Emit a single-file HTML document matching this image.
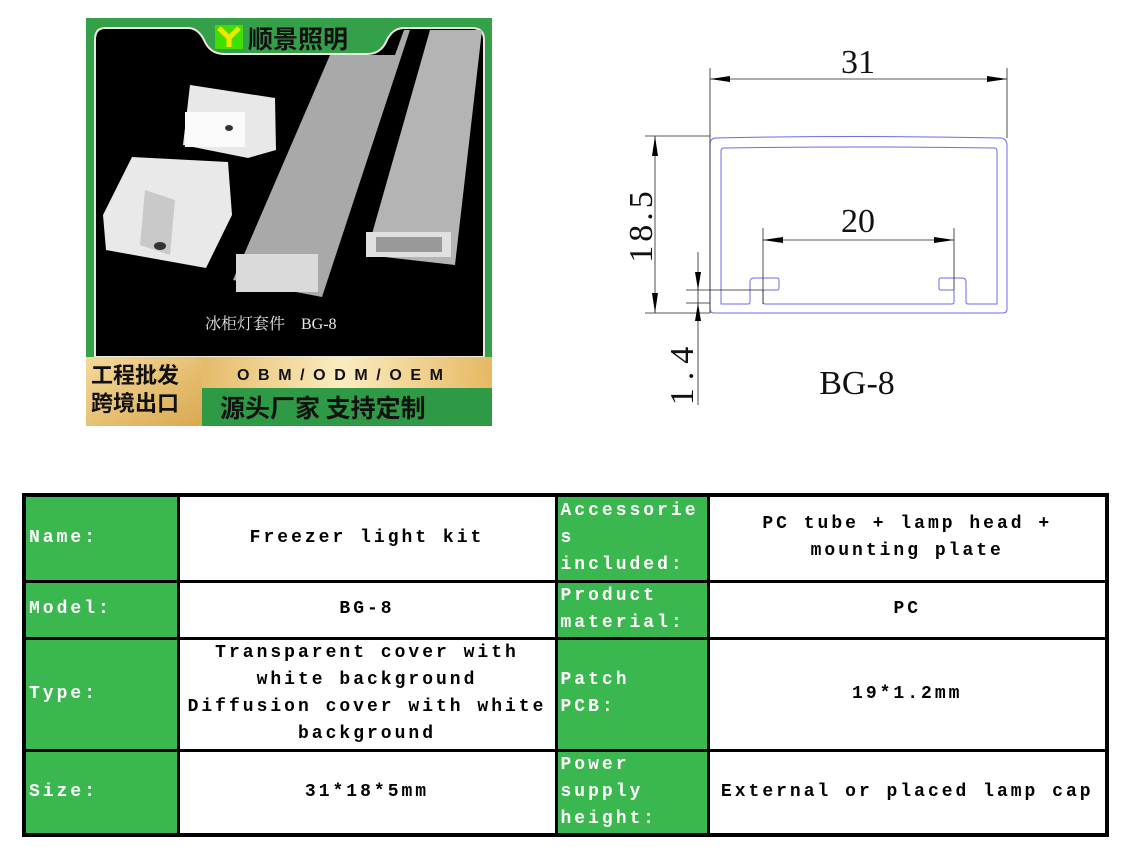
<!DOCTYPE html>
<html><head><meta charset="utf-8"><style>
html,body{margin:0;padding:0;background:#fff;}
body{width:1145px;height:852px;position:relative;overflow:hidden;font-family:"Liberation Sans","Noto Sans CJK SC",sans-serif;}
.abs{position:absolute;}
table{position:absolute;left:22px;top:493px;width:1087px;border-collapse:collapse;table-layout:fixed;border:4px solid #000;font-family:"Liberation Mono","Noto Sans CJK SC",monospace;font-weight:bold;font-size:18px;letter-spacing:3px;}
td{border:3px solid #000;padding:0;line-height:27px;overflow:hidden;}
td.g{background:#3bb74f;color:#fff;padding-left:3px;text-align:left;}
td.w{background:#fff;color:#000;text-align:center;}
</style></head><body>
<svg class="abs" style="left:0;top:0" width="1145" height="480" xmlns="http://www.w3.org/2000/svg">
  <rect x="86" y="18" width="406" height="408" fill="#35a04a"/>
  <path d="M105,28 L188,28 Q198,28 204,40 Q210,54 224,54 L368,54 Q380,54 386,42 Q392,28 404,28 L472,28 Q484,28 484,40 L484,357 L95,357 L95,40 Q95,28 105,28 Z" fill="#000" stroke="#e9eadd" stroke-width="2"/>
  <!-- tubes -->
  <path d="M330,55 L395,55 L404,30 L410,30 L322,297 L233,280 Z" fill="#a9a9a9"/>
  <rect x="236" y="254" width="82" height="38" fill="#dadada"/>
  <path d="M430,30 L482,30 L455,265 L366,255 Z" fill="#b4b4b4"/>
  <rect x="366" y="232" width="85" height="25" fill="#e0e0e0"/>
  <rect x="376" y="237" width="66" height="15" fill="#999"/>
  <!-- caps -->
  <path d="M190,85 L275,98 L276,150 L248,158 L183,145 Z" fill="#e8e8e8"/>
  <rect x="185" y="112" width="60" height="35" fill="#fafafa"/>
  <path d="M132,157 L228,162 L232,215 L206,268 L106,250 L103,215 Z" fill="#e9e9e9"/>
  <path d="M145,190 L175,200 L170,255 L140,245 Z" fill="#c9c9c9"/>
  <ellipse cx="160" cy="246" rx="6" ry="4" fill="#333"/>
  <ellipse cx="229" cy="128" rx="4" ry="3" fill="#333"/>
  <text x="205" y="329" font-family="Liberation Serif,Noto Serif CJK SC,serif" font-size="16" fill="#e8e8e8">冰柜灯套件　BG-8</text>
  <!-- logo -->
  <rect x="215" y="25" width="28" height="24" fill="#3fe000"/>
  <path d="M219,28 L229,38 L239,28 M229,38 L229,47" stroke="#f1e600" stroke-width="5" fill="none"/>
  <text x="248" y="48" font-family="Noto Sans CJK SC,sans-serif" font-weight="bold" font-size="25" fill="#111">顺景照明</text>
  <!-- banner -->
  <defs><linearGradient id="gd" x1="0" x2="1" y1="0" y2="0"><stop offset="0" stop-color="#e4b661"/><stop offset="0.5" stop-color="#fbecc0"/><stop offset="1" stop-color="#e6b963"/></linearGradient>
  <linearGradient id="gd2" x1="0" x2="1" y1="0" y2="1"><stop offset="0" stop-color="#f5d99a"/><stop offset="1" stop-color="#d9a94f"/></linearGradient></defs>
  <rect x="190" y="357" width="302" height="31" fill="url(#gd)"/>
  <rect x="190" y="388" width="302" height="38" fill="#2f9a45"/>
  <path d="M86,357 L194,357 Q202,357 202,365 L202,426 L86,426 Z" fill="url(#gd2)"/>
  <text x="91" y="383" font-family="Noto Sans CJK SC,sans-serif" font-weight="bold" font-size="22" fill="#111">工程批发</text>
  <text x="91" y="411" font-family="Noto Sans CJK SC,sans-serif" font-weight="bold" font-size="22" fill="#111">跨境出口</text>
  <text x="237" y="380" font-family="Liberation Sans,sans-serif" font-weight="bold" font-size="16" letter-spacing="8.6" fill="#111">OBM/ODM/OEM</text>
  <text x="220" y="417" font-family="Noto Sans CJK SC,sans-serif" font-weight="bold" font-size="25" fill="#111">源头厂家 支持定制</text>

  <!-- drawing -->
  <g stroke="#6b6bf0" stroke-width="1" fill="none">
    <path d="M715,138 Q858,135 1001,138 Q1007,139 1007,145 L1007,309 Q1007,313 1003,313 L714,313 Q710,313 710,309 L710,144 Q710,139 715,138 Z"/>
    <path d="M724,148 Q858,146 994,148 Q997,148 997,151 L997,304 L968,304 Q966,304 966,302 L966,282 Q966,278 962,278 L941,278 Q939,278 939,280 L939,288 Q939,290 941,290 L953,290 Q954,290 954,292 L954,302 Q954,304 952,304 L765,304 Q763,304 763,302 L763,292 Q763,290 765,290 L777,290 Q779,290 779,288 L779,280 Q779,278 777,278 L754,278 Q750,278 750,282 L750,302 Q750,304 748,304 L721,304 L721,151 Q721,148 724,148 Z"/>
  </g>
  <g stroke="#222" stroke-width="0.8" fill="none">
    <line x1="710" y1="68" x2="710" y2="313"/>
    <line x1="1007" y1="68" x2="1007" y2="138"/>
    <line x1="710" y1="79" x2="1007" y2="79"/>
    <line x1="645" y1="136" x2="710" y2="136"/>
    <line x1="645" y1="313" x2="710" y2="313"/>
    <line x1="655" y1="136" x2="655" y2="313"/>
    <line x1="763" y1="228" x2="763" y2="304"/>
    <line x1="954" y1="228" x2="954" y2="290"/>
    <line x1="763" y1="240" x2="954" y2="240"/>
    <line x1="686" y1="290" x2="763" y2="290"/>
    <line x1="686" y1="303" x2="710" y2="303"/>
    <line x1="698" y1="252" x2="698" y2="405"/>
  </g>
  <g fill="#000">
    <path d="M710,79 L730,76 L730,82 Z"/><path d="M1007,79 L987,76 L987,82 Z"/>
    <path d="M655,136 L652,156 L658,156 Z"/><path d="M655,313 L652,293 L658,293 Z"/>
    <path d="M763,240 L783,237 L783,243 Z"/><path d="M954,240 L934,237 L934,243 Z"/>
    <path d="M698,290 L695,272 L701,272 Z"/><path d="M698,303 L695,321 L701,321 Z"/>
  </g>
  <g font-family="Liberation Serif,serif" fill="#111">
    <text x="858" y="73" font-size="34" text-anchor="middle">31</text>
    <text x="858" y="232" font-size="34" text-anchor="middle">20</text>
    <text x="857" y="394" font-size="34" text-anchor="middle">BG-8</text>
    <text transform="translate(652,225) rotate(-90)" font-size="34" text-anchor="middle" letter-spacing="4">18.5</text>
    <text transform="translate(693,372) rotate(-90)" font-size="34" text-anchor="middle" letter-spacing="8">1.4</text>
  </g>
</svg>
<table>
<colgroup><col style="width:154px"><col style="width:378px"><col style="width:152px"><col></colgroup>
<tr style="height:86px"><td class="g">Name:</td><td class="w">Freezer light kit</td><td class="g">Accessorie<br>s<br>included:</td><td class="w">PC tube + lamp head +<br>mounting plate</td></tr>
<tr style="height:56px"><td class="g">Model:</td><td class="w">BG-8</td><td class="g">Product<br>material:</td><td class="w">PC</td></tr>
<tr style="height:112px"><td class="g">Type:</td><td class="w">Transparent cover with<br>white background<br>Diffusion cover with white<br>background</td><td class="g">Patch<br>PCB:</td><td class="w">19*1.2mm</td></tr>
<tr style="height:85px"><td class="g">Size:</td><td class="w">31*18*5mm</td><td class="g">Power<br>supply<br>height:</td><td class="w">External or placed lamp cap</td></tr>
</table>
</body></html>
